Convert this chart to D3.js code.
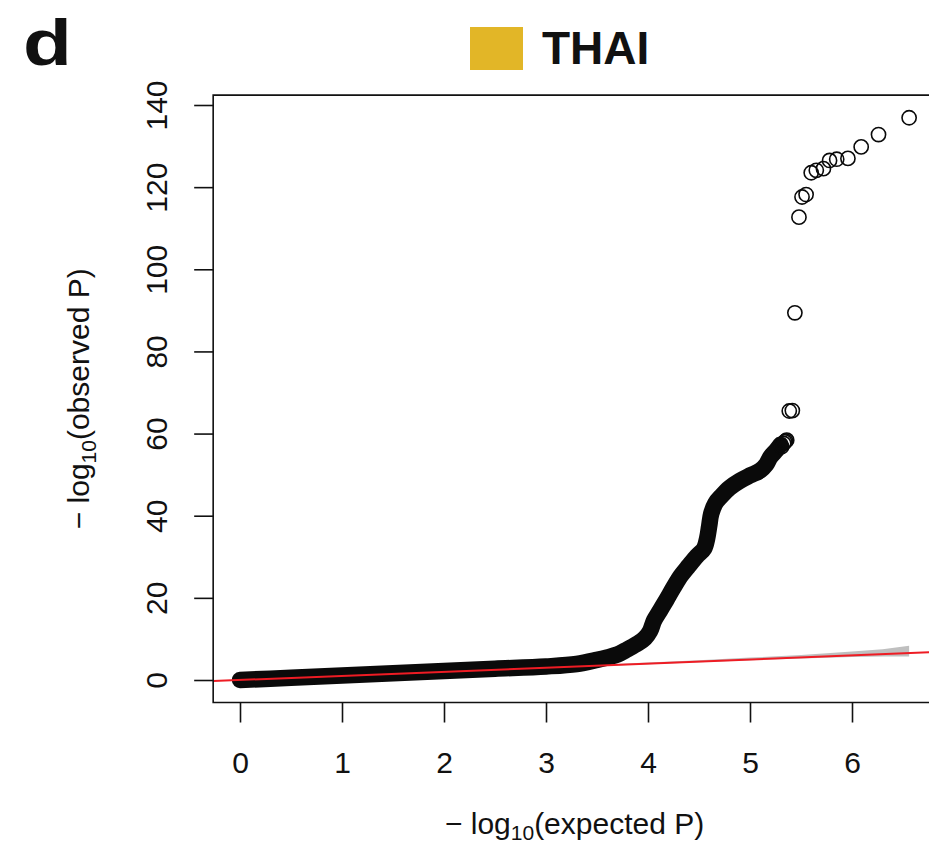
<!DOCTYPE html>
<html>
<head>
<meta charset="utf-8">
<script src="https://cdn.jsdelivr.net/npm/d3@7"></script>
<style>
  body { margin: 0; background: #fff; }
  text { font-family: "Liberation Sans", Arial, sans-serif; fill: #111; }
</style>
</head>
<body>
<div id="chart"></div>
<script>
// dense part of the QQ curve (points overlap into a solid band)
const bodyX = [0, 0.5, 1.0, 1.5, 2.0, 2.5, 3.0, 3.3, 3.5, 3.6, 3.7, 3.8, 3.9, 3.97, 4.02, 4.06, 4.12, 4.18, 4.25, 4.32, 4.40, 4.48, 4.55, 4.58, 4.60, 4.62, 4.66, 4.72, 4.80, 4.90, 5.00, 5.10, 5.16, 5.20, 5.26, 5.30];
const bodyY = [0, 0.55, 1.1, 1.65, 2.2, 2.75, 3.3, 3.9, 4.9, 5.5, 6.2, 7.5, 8.9, 10.2, 11.9, 14.5, 17.0, 19.5, 22.5, 25.3, 27.8, 30.2, 32.0, 34.5, 37.5, 40.5, 43.0, 44.8, 46.8, 48.5, 49.8, 51.0, 52.5, 54.3, 56.0, 57.3];

// separate points in the tail
const tailX = [5.31, 5.33, 5.34, 5.35, 5.36, 5.385, 5.415, 5.44, 5.48, 5.51, 5.55, 5.60, 5.65, 5.72, 5.78, 5.85, 5.96, 6.09, 6.26, 6.56];
const tailY = [56.8, 57.6, 58.0, 58.2, 58.4, 65.5, 65.6, 89.4, 112.7, 117.6, 118.2, 123.5, 124.1, 124.5, 126.5, 126.8, 127.0, 129.8, 132.8, 136.9];

// confidence band around the null line
const ciX = [0, 1, 2, 3, 4, 4.5, 5, 5.5, 6, 6.3, 6.56];
const ciLow = [0, 0.95, 1.9, 2.9, 3.85, 4.35, 4.8, 5.25, 5.6, 5.75, 5.7];
const ciHigh = [0.03, 1.1, 2.12, 3.15, 4.25, 4.8, 5.45, 6.1, 6.95, 7.5, 8.35];

const xTicks = [0, 1, 2, 3, 4, 5, 6];
const yTicks = [0, 20, 40, 60, 80, 100, 120, 140];
const panelLabel = "d";
const groupName = "THAI";
const groupColor = "#e2b627";

const svgWidth = 929;
const svgHeight = 847;

const svg = d3.select('#chart')
    .append('svg')
    .attr('width', svgWidth)
    .attr('height', svgHeight);

const xScale = d3.scaleLinear().domain([0, 6]).range([240, 852]);
const yScale = d3.scaleLinear().domain([0, 140]).range([680, 105]);

// plot region, R style 4% padding
const xLim = [-0.263, 6.823];
const yLim = [-5.48, 142.4];
const plotLeft = xScale(xLim[0]), plotRight = xScale(xLim[1]);
const plotTop = yScale(yLim[1]), plotBottom = yScale(yLim[0]);

svg.append('clipPath').attr('id', 'plotclip')
    .append('rect')
    .attr('x', plotLeft).attr('y', plotTop)
    .attr('width', plotRight - plotLeft).attr('height', plotBottom - plotTop);

const plot = svg.append('g').attr('clip-path', 'url(#plotclip)');

// grey band
const ci = ciX.map((x, i) => ({ x: x, lo: ciLow[i], hi: ciHigh[i] }));
plot.append('path')
    .datum(ci)
    .attr('d', d3.area().x(d => xScale(d.x)).y0(d => yScale(d.lo)).y1(d => yScale(d.hi)))
    .attr('fill', '#bfbfbf');

// body of points
const body = bodyX.map((x, i) => [xScale(x), yScale(bodyY[i])]);
plot.append('path')
    .datum(body)
    .attr('d', d3.line().curve(d3.curveCatmullRom))
    .attr('fill', 'none')
    .attr('stroke', '#0a0a0a')
    .attr('stroke-width', 16.5)
    .attr('stroke-linecap', 'round')
    .attr('stroke-linejoin', 'round');

// tail points
plot.selectAll('.tail')
    .data(tailX.map((x, i) => ({ x: x, y: tailY[i] })))
    .enter().append('circle')
    .attr('class', 'tail')
    .attr('cx', d => xScale(d.x))
    .attr('cy', d => yScale(d.y))
    .attr('r', 7.1)
    .attr('fill', 'none')
    .attr('stroke', '#0a0a0a')
    .attr('stroke-width', 1.6);

// null line y = x
plot.append('line')
    .attr('x1', xScale(xLim[0])).attr('y1', yScale(xLim[0]))
    .attr('x2', xScale(xLim[1])).attr('y2', yScale(xLim[1]))
    .attr('stroke', '#ee1c24')
    .attr('stroke-width', 2);

// box
svg.append('path')
    .attr('d', `M${plotRight},${plotTop}H${plotLeft}V${plotBottom}H${plotRight}`)
    .attr('fill', 'none')
    .attr('stroke', '#111')
    .attr('stroke-width', 1.6);

// axes
const xAxis = svg.append('g')
    .attr('transform', `translate(0, ${plotBottom})`)
    .call(d3.axisBottom(xScale).tickValues(xTicks).tickSize(20).tickPadding(0).tickFormat(d3.format('d')));
xAxis.select('.domain').remove();
xAxis.selectAll('line').attr('stroke', '#111').attr('stroke-width', 1.6);
xAxis.selectAll('text')
    .attr('y', 70).attr('dy', null)
    .style('font-size', '30px')
    .style('font-family', '"Liberation Sans", Arial, sans-serif')
    .attr('fill', '#111');

const yAxis = svg.append('g')
    .attr('transform', `translate(${plotLeft}, 0)`)
    .call(d3.axisLeft(yScale).tickValues(yTicks).tickSize(19).tickFormat(d3.format('d')));
yAxis.select('.domain').remove();
yAxis.selectAll('line').attr('stroke', '#111').attr('stroke-width', 1.6);
yAxis.selectAll('text')
    .attr('x', null).attr('dy', null)
    .attr('transform', 'translate(-46, 0) rotate(-90)')
    .attr('text-anchor', 'middle')
    .attr('y', 0)
    .style('font-size', '30px')
    .style('font-family', '"Liberation Sans", Arial, sans-serif')
    .attr('fill', '#111');

// axis titles
const midX = (plotLeft + plotRight) / 2;
const midY = (plotTop + plotBottom) / 2;

const xTitle = svg.append('text')
    .attr('x', midX).attr('y', 834)
    .attr('text-anchor', 'middle')
    .style('font-size', '30px');
xTitle.append('tspan').text('\u2212 log');
xTitle.append('tspan').attr('dy', 6).style('font-size', '21px').text('10');
xTitle.append('tspan').attr('dy', -6).text('(expected P)');

const yTitle = svg.append('text')
    .attr('transform', `translate(89, ${midY}) rotate(-90)`)
    .attr('text-anchor', 'middle')
    .style('font-size', '30px');
yTitle.append('tspan').text('\u2212 log');
yTitle.append('tspan').attr('dy', 7).style('font-size', '21px').text('10');
yTitle.append('tspan').attr('dy', -7).text('(observed P)');

// panel letter and legend
svg.append('text')
    .attr('transform', 'translate(23, 65) scale(1.25, 1)')
    .style('font-size', '64px')
    .style('font-weight', 'bold')
    .text(panelLabel);

svg.append('rect')
    .attr('x', 470).attr('y', 27)
    .attr('width', 53).attr('height', 43)
    .attr('fill', groupColor);

svg.append('text')
    .attr('x', 542).attr('y', 64)
    .style('font-size', '46px')
    .style('font-weight', 'bold')
    .text(groupName);
</script>
</body>
</html>
